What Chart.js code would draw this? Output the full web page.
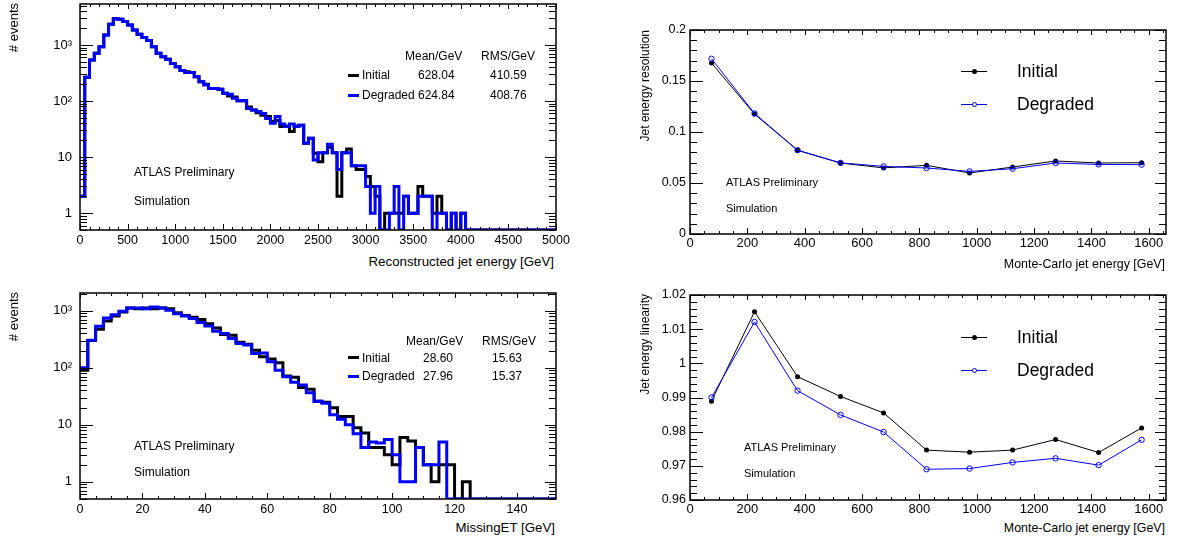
<!DOCTYPE html>
<html>
<head>
<meta charset="utf-8">
<script src="https://cdn.jsdelivr.net/npm/chart.js@4"></script>
<style>
  body { margin: 0; background: #fff; }
  #page { position: relative; width: 1179px; height: 542px; overflow: hidden;
          font-family: 'Liberation Sans', Arial, Helvetica, sans-serif; color: #000; }
  canvas { position: absolute; }
  .t { position: absolute; white-space: nowrap; line-height: 1; transform: translateY(-50%); }
  .s { font-size: 12px; }
  .ytitle { position: absolute; width: 200px; text-align: right; white-space: nowrap;
            transform-origin: 0 0; transform: rotate(-90deg); }
  .bar { position: absolute; height: 3px; width: 11px; }
  .lline { position: absolute; height: 1px; width: 26px; }
  .mk { position: absolute; width: 5px; height: 5px; border-radius: 50%; box-sizing: border-box; }
</style>
</head>
<body>
<div id="page">
  <canvas id="jetHist" width="590" height="250" style="left:0;top:0"></canvas>
  <canvas id="metHist" width="590" height="240" style="left:0;top:280px"></canvas>
  <canvas id="resPlot" width="579" height="260" style="left:600px;top:0"></canvas>
  <canvas id="linPlot" width="579" height="240" style="left:600px;top:280px"></canvas>

  <!-- axis titles -->
  <div class="ytitle" style="left:6px;top:203px;font-size:13px;line-height:15px;"># events</div>
  <div class="ytitle" style="left:6px;top:492px;font-size:13px;line-height:15px;"># events</div>
  <div class="ytitle" style="left:638px;top:230px;font-size:12px;line-height:14px;">Jet energy resolution</div>
  <div class="ytitle" style="left:638px;top:494px;font-size:12px;line-height:14px;">Jet energy linearity</div>
  <div class="t" style="right:625px;top:262px;font-size:13.3px;">Reconstructed jet energy [GeV]</div>
  <div class="t" style="right:624px;top:528px;font-size:13.3px;">MissingET [GeV]</div>
  <div class="t" style="right:14px;top:264px;font-size:12.4px;">Monte-Carlo jet energy [GeV]</div>
  <div class="t" style="right:14px;top:528px;font-size:12.4px;">Monte-Carlo jet energy [GeV]</div>

  <!-- top left stats box -->
  <div class="t s" style="left:405px;top:56px;">Mean/GeV</div>
  <div class="t s" style="left:481px;top:56px;">RMS/GeV</div>
  <div class="bar" style="left:348px;top:73.5px;background:#000"></div>
  <div class="t s" style="left:362px;top:75px;">Initial</div>
  <div class="t s" style="left:418px;top:75px;">628.04</div>
  <div class="t s" style="left:490px;top:75px;">410.59</div>
  <div class="bar" style="left:348px;top:93.5px;background:#0000ff"></div>
  <div class="t s" style="left:362px;top:95px;">Degraded</div>
  <div class="t s" style="left:418px;top:95px;">624.84</div>
  <div class="t s" style="left:490px;top:95px;">408.76</div>
  <div class="t" style="left:134px;top:172px;font-size:12px;">ATLAS Preliminary</div>
  <div class="t" style="left:134px;top:201px;font-size:12px;">Simulation</div>

  <!-- bottom left stats box -->
  <div class="t s" style="left:406px;top:341px;">Mean/GeV</div>
  <div class="t s" style="left:482px;top:341px;">RMS/GeV</div>
  <div class="bar" style="left:348px;top:356px;background:#000"></div>
  <div class="t s" style="left:362px;top:357.5px;">Initial</div>
  <div class="t s" style="left:423px;top:357.5px;">28.60</div>
  <div class="t s" style="left:492px;top:357.5px;">15.63</div>
  <div class="bar" style="left:348px;top:374.5px;background:#0000ff"></div>
  <div class="t s" style="left:362px;top:376px;">Degraded</div>
  <div class="t s" style="left:423px;top:376px;">27.96</div>
  <div class="t s" style="left:492px;top:376px;">15.37</div>
  <div class="t" style="left:134px;top:446px;font-size:12px;">ATLAS Preliminary</div>
  <div class="t" style="left:134px;top:472px;font-size:12px;">Simulation</div>

  <!-- right legends -->
  <div class="lline" style="left:961px;top:71px;background:#000"></div>
  <div class="mk" style="left:971.5px;top:69px;background:#000"></div>
  <div class="t" style="left:1017px;top:72px;font-size:17.5px;">Initial</div>
  <div class="lline" style="left:961px;top:104px;background:#0000ff"></div>
  <div class="mk" style="left:971.5px;top:102px;border:1px solid #0000ff;background:#fff"></div>
  <div class="t" style="left:1017px;top:105px;font-size:17.5px;">Degraded</div>
  <div class="t" style="left:726px;top:182px;font-size:11px;">ATLAS Preliminary</div>
  <div class="t" style="left:726px;top:208px;font-size:11px;">Simulation</div>

  <div class="lline" style="left:961px;top:337px;background:#000"></div>
  <div class="mk" style="left:971.5px;top:335px;background:#000"></div>
  <div class="t" style="left:1017px;top:338px;font-size:17.5px;">Initial</div>
  <div class="lline" style="left:961px;top:370px;background:#0000ff"></div>
  <div class="mk" style="left:971.5px;top:368px;border:1px solid #0000ff;background:#fff"></div>
  <div class="t" style="left:1017px;top:371px;font-size:17.5px;">Degraded</div>
  <div class="t" style="left:744px;top:447px;font-size:11px;">ATLAS Preliminary</div>
  <div class="t" style="left:744px;top:473px;font-size:11px;">Simulation</div>
</div>

<script>
// ---------- data ----------
// reconstructed jet energy, 50 GeV bins from 0 to 5000
const jetBinWidth = 50;
const jetInitial = [
    2, 265, 540, 710, 930, 1510, 2360, 2960, 2900, 2620,
    2270, 1850, 1550, 1370, 1200, 930, 710, 620, 555, 470,
    410, 350, 335, 325, 272, 222, 200, 168, 168, 162,
    138, 123, 118, 101, 101, 78, 69, 62, 56, 53,
    43, 45, 35, 36, 28.5, 36, 37, 17.7, 21.7, 11.7,
    8.3, 12, 15, 12, 2, 12, 14, 7, 6, 6,
    4.5, 3, 2, 0, 1, 1, 1, 1, 2, 1,
    1, 3, 2, 2, 1, 2, 1, 0, 1, 0,
    1, 0, 0, 0, 0, 0, 0, 0, 0, 0,
    0, 0, 0, 0, 0, 0, 0, 0, 0, 0
];
const jetDegraded = [
    2, 265, 540, 710, 930, 1510, 2360, 2960, 2900, 2620,
    2270, 1850, 1550, 1370, 1200, 930, 710, 620, 555, 470,
    410, 350, 325, 325, 272, 222, 194, 168, 168, 162,
    138, 132, 112, 101, 101, 74, 69, 65, 60, 49,
    40, 53, 39, 35, 39, 35, 37, 17.7, 21.7, 8.9,
    12, 12, 17, 12, 6, 12, 12, 7, 7, 7,
    3, 1, 3, 0, 0, 1, 3, 0, 2, 1,
    1, 2, 2, 2, 0, 1, 1, 0, 1, 0,
    1, 0, 0, 0, 0, 0, 0, 0, 0, 0,
    0, 0, 0, 0, 0, 0, 0, 0, 0, 0
];

// missing ET, 2.5 GeV bins from 0 to 152.5
const metBinWidth = 2.5;
const metInitial = [
    91, 300, 475, 660, 810, 950, 1120, 1090, 1120, 1090,
    1120, 1090, 925, 830, 770, 700, 592, 500, 385, 372,
    280, 258, 204, 156, 142, 123, 72, 68, 45, 42,
    26, 25, 20, 14, 14, 8.9, 7.2, 4, 4, 3,
    2, 6, 5.2, 4, 2, 1, 2, 2, 0, 1,
    0, 0, 0, 0, 0, 0, 0, 0, 0, 0, 0
];
const metDegraded = [
    100, 305, 535, 745, 855, 980, 1120, 1120, 1090, 1165,
    1120, 1020, 890, 810, 730, 620, 543, 437, 400, 325,
    267, 250, 178, 181, 128, 91, 70, 56, 50, 36.5,
    26, 24, 15, 12.5, 10, 7, 4, 5, 4.8, 5.5,
    3, 1, 1, 4, 2, 2, 5, 0, 0, 0,
    0, 0, 0, 0, 0, 0, 0, 0, 0, 0, 0
];

// Monte-Carlo jet energy bin centres
const mcEnergy = [75, 225, 375, 525, 675, 825, 975, 1125, 1275, 1425, 1575];
const resInitial   = [0.1676, 0.1176, 0.0820, 0.0696, 0.0648, 0.0673, 0.0598, 0.0657, 0.0716, 0.0696, 0.0699];
const resDegraded  = [0.1718, 0.1182, 0.0822, 0.0697, 0.0663, 0.0647, 0.0614, 0.0640, 0.0696, 0.0682, 0.0680];
const linInitial   = [0.9889, 1.0151, 0.9961, 0.9903, 0.9855, 0.9746, 0.9740, 0.9746, 0.9777, 0.9739, 0.9811];
const linDegraded  = [0.9900, 1.0121, 0.9920, 0.9849, 0.9799, 0.9690, 0.9692, 0.9710, 0.9722, 0.9702, 0.9776];

// tick labels
const jetTicksX = [0, 500, 1000, 1500, 2000, 2500, 3000, 3500, 4000, 4500, 5000];
const metTicksX = [0, 20, 40, 60, 80, 100, 120, 140];
const logTicksY = [1, 10, 100, 1000];
const mcTicksX  = [0, 200, 400, 600, 800, 1000, 1200, 1400, 1600];
const resTicksY = [0, 0.05, 0.1, 0.15, 0.2];
const linTicksY = [0.96, 0.97, 0.98, 0.99, 1, 1.01, 1.02];

// ---------- helpers ----------
const FONT = "'Liberation Sans', Arial, Helvetica, sans-serif";
const BLUE = '#0000ff';

const histPoints = (values, width, floor) => {
    const pts = values.map((v, i) => ({ x: i * width, y: v > 0 ? v : floor }));
    pts.push({ x: values.length * width, y: pts[pts.length - 1].y });
    return pts;
};
const linePoints = (xs, ys) => xs.map((x, i) => ({ x, y: ys[i] }));

const logLabel = v => ({ 1: '1', 10: '10', 100: '10\u00B2', 1000: '10\u00B3' }[v] || '');
const plain = v => String(+Number(v).toFixed(2));

function tickList(scale, major, minor, isLog) {
    const out = [];
    if (isLog) {
        const lo = Math.floor(Math.log10(scale.min)), hi = Math.ceil(Math.log10(scale.max));
        for (let e = lo; e <= hi; e++) {
            for (let m = 1; m <= 9; m++) {
                const v = m * Math.pow(10, e);
                if (v >= scale.min * 0.999 && v <= scale.max * 1.001) out.push({ v, major: m === 1 });
            }
        }
    } else {
        const n0 = Math.ceil(scale.min / minor - 1e-6), n1 = Math.floor(scale.max / minor + 1e-6);
        for (let n = n0; n <= n1; n++) {
            const v = n * minor, r = v / major;
            out.push({ v, major: Math.abs(r - Math.round(r)) < 1e-6 });
        }
    }
    return out;
}

// ROOT-like frame with inward ticks on all four sides
const rootFrame = {
    id: 'rootFrame',
    afterDatasetsDraw(chart, args, o) {
        const { ctx, chartArea: a, scales: { x, y } } = chart;
        ctx.save();
        ctx.strokeStyle = '#000';
        ctx.lineWidth = 1;
        ctx.beginPath();
        tickList(x, o.xMajor, o.xMinor, false).forEach(t => {
            const px = Math.round(x.getPixelForValue(t.v)) + 0.5;
            ctx.moveTo(px, a.bottom); ctx.lineTo(px, a.bottom - (t.major ? 6 : 3));
            ctx.moveTo(px, a.top);    ctx.lineTo(px, a.top + (t.major ? 5 : 3));
        });
        tickList(y, o.yMajor, o.yMinor, o.yLog).forEach(t => {
            const py = Math.round(y.getPixelForValue(t.v)) + 0.5;
            ctx.moveTo(a.left, py);  ctx.lineTo(a.left + (t.major ? 13 : 7), py);
            ctx.moveTo(a.right, py); ctx.lineTo(a.right - (t.major ? 11 : 7), py);
        });
        ctx.stroke();
        ctx.lineWidth = 1.5;
        ctx.strokeRect(a.left, a.top, a.right - a.left, a.bottom - a.top);
        ctx.restore();
    }
};

function axisX(min, max, ticks, height, pad, size) {
    return {
        type: 'linear', min, max, bounds: 'data',
        grid: { display: false, drawTicks: false }, border: { display: false },
        ticks: { padding: pad, color: '#000', font: { family: FONT, size }, maxRotation: 0,
                 autoSkip: false, callback: plain },
        afterBuildTicks: s => { s.ticks = ticks.map(value => ({ value })); },
        afterFit: s => { s.height = height; s.paddingLeft = 0; s.paddingRight = 0; }
    };
}
function axisY(type, min, max, ticks, width, pad, size, cb) {
    return {
        type, min, max, bounds: 'data',
        grid: { display: false, drawTicks: false }, border: { display: false },
        ticks: { padding: pad, color: '#000', font: { family: FONT, size }, autoSkip: false, callback: cb },
        afterBuildTicks: s => { s.ticks = ticks.map(value => ({ value })); },
        afterFit: s => { s.width = width; s.paddingTop = 0; s.paddingBottom = 0; }
    };
}

function histChart(id, initial, degraded, binWidth, xMax, xTicks, yMax, padding, frame) {
    const floor = 0.5;
    const ds = (data, color, order) => ({
        data: histPoints(data, binWidth, floor), borderColor: color, borderWidth: 3,
        stepped: 'before', pointRadius: 0, fill: false, order,
        borderJoinStyle: 'miter', borderCapStyle: 'butt'
    });
    new Chart(document.getElementById(id), {
        type: 'line',
        data: { datasets: [ds(initial, '#000', 1), ds(degraded, BLUE, 0)] },
        options: {
            responsive: false, animation: false, devicePixelRatio: 1,
            layout: { padding },
            plugins: { legend: { display: false }, tooltip: { enabled: false }, rootFrame: frame },
            scales: {
                x: axisX(0, xMax, xTicks, padding.xh, 3, 12.5),
                y: axisY('logarithmic', floor, yMax, logTicksY, 80, 8, 13, v => logLabel(v))
            }
        },
        plugins: [rootFrame]
    });
}

function graphChart(id, initial, degraded, yMin, yMax, yTicks, padding, frame) {
    new Chart(document.getElementById(id), {
        type: 'line',
        data: {
            datasets: [
                { data: linePoints(mcEnergy, initial), borderColor: '#000', borderWidth: 1,
                  pointRadius: 2.5, pointBackgroundColor: '#000', pointBorderColor: '#000',
                  pointBorderWidth: 0, order: 1, tension: 0 },
                { data: linePoints(mcEnergy, degraded), borderColor: BLUE, borderWidth: 1,
                  pointRadius: 2.7, pointBackgroundColor: 'rgba(255,255,255,0)', pointBorderColor: BLUE,
                  pointBorderWidth: 1, order: 0, tension: 0 }
            ]
        },
        options: {
            responsive: false, animation: false, devicePixelRatio: 1,
            layout: { padding },
            plugins: { legend: { display: false }, tooltip: { enabled: false }, rootFrame: frame },
            scales: {
                x: axisX(0, 1660, mcTicksX, padding.xh, 2, 13),
                y: axisY('linear', yMin, yMax, yTicks, 90, 4, 12.5, plain)
            }
        },
        plugins: [rootFrame]
    });
}

// ---------- charts ----------
histChart('jetHist', jetInitial, jetDegraded, jetBinWidth, 5000, jetTicksX, 5400,
    { top: 4, right: 34, left: 0, bottom: 0, xh: 20 },
    { xMajor: 500, xMinor: 100, yLog: true });

histChart('metHist', metInitial, metDegraded, metBinWidth, 152.5, metTicksX, 2050,
    { top: 13, right: 34, left: 0, bottom: 0, xh: 21 },
    { xMajor: 20, xMinor: 5, yLog: true });

graphChart('resPlot', resInitial, resDegraded, 0, 0.2, resTicksY,
    { top: 30, right: 13, left: 0, bottom: 0, xh: 26 },
    { xMajor: 200, xMinor: 50, yMajor: 0.05, yMinor: 0.01, yLog: false });

graphChart('linPlot', linInitial, linDegraded, 0.96, 1.02, linTicksY,
    { top: 15, right: 13, left: 0, bottom: 0, xh: 20 },
    { xMajor: 200, xMinor: 50, yMajor: 0.01, yMinor: 0.002, yLog: false });
</script>
</body>
</html>
